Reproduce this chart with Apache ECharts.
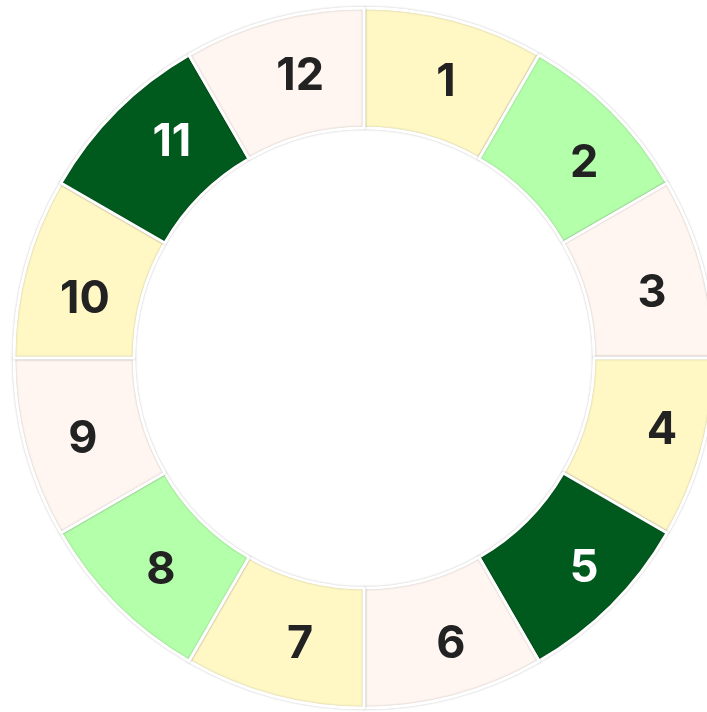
<!DOCTYPE html>
<html><head><meta charset="utf-8">
<script src="https://cdn.jsdelivr.net/npm/echarts@6/dist/echarts.min.js"></script>
<style>html,body{margin:0;padding:0;background:#fff}#c{width:707px;height:712px}</style>
</head><body><div id="c"></div>
<script>
const categories = ['1','2','3','4','5','6','7','8','9','10','11','12'];
const values = [1,1,1,1,1,1,1,1,1,1,1,1];
const sliceColors = ['#fff8c5','#b3ffaa','#fff6f1','#fff8c5','#005a1e','#fff6f1','#fff8c5','#b3ffaa','#fff6f1','#fff8c5','#005a1e','#fff6f1'];
const labelColors = ['#222','#222','#222','#222','#fff','#222','#222','#222','#222','#222','#fff','#222'];
// small label nudges (layout only), [dx, dy] per slice
const labelNudge = [[6,7],[13,13],[5,11],[15,-3],[13,3],[11,3],[12,3],[4,5],[2,6],[4,17],[15,-8],[12,1]];

const chart = echarts.init(document.getElementById('c'));
chart.setOption({
  animation: false,
  series: [{
    type: 'pie',
    center: [364, 358],
    radius: [230, 350],
    startAngle: 90,
    clockwise: true,
    silent: true,
    data: categories.map((c, i) => ({
      name: c, value: values[i],
      itemStyle: { color: sliceColors[i] },
      label: { color: labelColors[i] }
    })),
    itemStyle: { borderColor: '#fff', borderWidth: 3, shadowBlur: 2, shadowColor: 'rgba(0,0,0,0.25)' },
    label: {
      show: true, position: 'inside', formatter: '{b}',
      fontFamily: 'Inter', fontWeight: 'bold', fontSize: 45
    },
    labelLayout: function (p) {
      const n = labelNudge[p.dataIndex];
      return { dx: n[0], dy: n[1] };
    },
    labelLine: { show: false }
  }]
});
</script></body></html>
